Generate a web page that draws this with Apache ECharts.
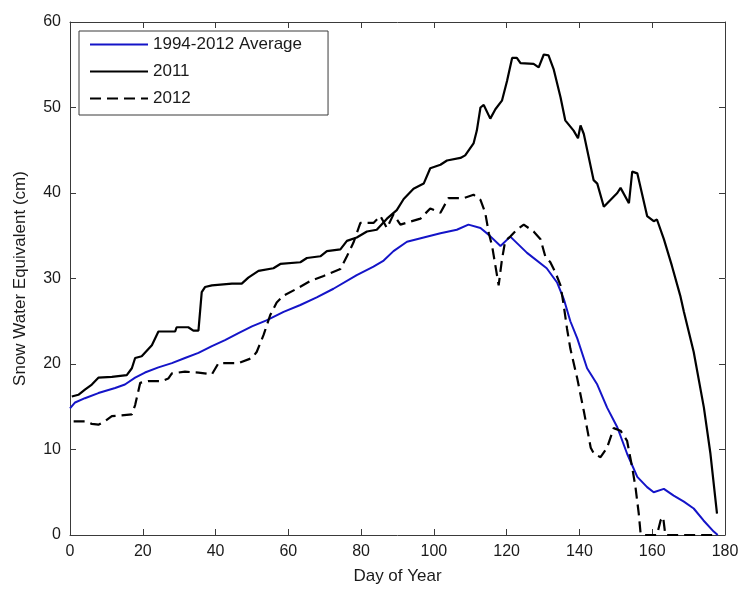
<!DOCTYPE html>
<html>
<head>
<meta charset="utf-8">
<script src="https://cdn.jsdelivr.net/npm/echarts@6/dist/echarts.min.js"></script>
<style>
  html, body { margin: 0; padding: 0; background: #fff; }
  #chart { width: 743px; height: 590px; }
</style>
</head>
<body>
<div id="chart"></div>
<script>
// 1994-2012 average (blue)
const avgDays = [0, 1.4, 4.1, 7.8, 12.4, 15.1, 17.9, 20.6, 24.3, 28, 31.6, 35.3, 39, 42.6, 46.3, 50, 54,
  58.7, 63.3, 67.8, 72.4, 78.8, 83.4, 86.2, 88.9, 92.6, 97.2, 101.8, 106.3, 109.5, 112.8, 115.1, 118.3, 121,
  125.6, 131, 133.9, 135.7, 137.5, 139.4, 142.1, 144.9, 147.6, 150.4, 153.1, 155.9, 158.6, 160.4,
  163.2, 165.9, 168.7, 171.4, 174.1, 176.9, 178];
const avgSwe = [14.8, 15.5, 16.0, 16.6, 17.2, 17.6, 18.4, 19.0, 19.6, 20.1, 20.7, 21.3, 22.1, 22.8, 23.6, 24.4, 25.1,
  26.1, 26.9, 27.8, 28.8, 30.4, 31.4, 32.1, 33.2, 34.3, 34.8, 35.3, 35.7, 36.3, 35.9, 35.1, 33.8, 34.9,
  33.0, 31.2, 29.5, 27.6, 25.0, 23.0, 19.5, 17.6, 14.9, 12.6, 9.5, 6.8, 5.6, 5.0,
  5.4, 4.6, 3.9, 3.1, 1.7, 0.4, 0];

// 2011 (solid black)
const days2011 = [0.5, 2.3, 4.1, 6, 7.8, 11.5, 15.6, 17, 17.9, 19.7, 22.5, 24.3, 28.9, 29.3, 32.5, 33.9, 35.3,
  36.2, 37.1, 39, 44.5, 47.2, 49, 51.8, 55.9, 57.8, 63.3, 65.1, 68.8, 70.6, 74.3, 76.1, 78.8, 81.6, 84.3,
  87.1, 89.8, 91.7, 94.4, 97.2, 99, 101.8, 103.6, 107.3, 108.6, 110.9, 111.8, 112.8, 113.7, 115.5, 116.9,
  118.7, 120.1, 121.5, 122.8, 123.8, 127.4, 128.8, 130.2, 131.5, 132.9, 134.8, 136.1, 138.4, 139.6, 140.3,
  141.2, 143.9, 144.9, 146.7, 150.4, 151.3, 153.6, 154.5, 155.9, 158.6, 160.4, 161.3, 163.2, 165.4, 167.7,
  168.7, 171.4, 174.2, 176, 177.8];
const swe2011 = [16.2, 16.4, 17.0, 17.6, 18.4, 18.5, 18.7, 19.5, 20.7, 20.9, 22.2, 23.8, 23.8, 24.3, 24.3, 23.9, 23.9,
  28.4, 29.0, 29.2, 29.4, 29.4, 30.1, 30.9, 31.2, 31.7, 31.9, 32.4, 32.6, 33.2, 33.4, 34.4, 34.8, 35.5, 35.7,
  37.0, 38.0, 39.3, 40.5, 41.1, 42.9, 43.3, 43.8, 44.1, 44.4, 45.8, 47.3, 50.0, 50.3, 48.7, 49.8,
  50.8, 53.1, 55.8, 55.8, 55.2, 55.1, 54.7, 56.2, 56.1, 54.5, 51.2, 48.5, 47.3, 46.4, 47.9,
  46.9, 41.5, 41.1, 38.4, 40.0, 40.6, 38.8, 42.5, 42.3, 37.3, 36.7, 36.9, 34.6, 31.5, 28.0,
  26.1, 21.4, 14.9, 9.5, 2.5];

// 2012 (dashed black)
const days2012 = [1, 4.1, 6, 7.8, 9.6, 11.5, 17, 17.9, 19.3, 21.5, 25.2, 27, 28, 31.6, 35.3, 39, 40.8, 46.3,
  50, 51.3, 53.2, 55, 56.8, 58.7, 62.3, 66, 69.7, 74.3, 76.1, 77.9, 79.8, 83.4, 85.3, 87.1, 88.9, 90.8,
  96.3, 99, 101.8, 104, 108.2, 110.9, 112.8, 114.1, 115.1, 116, 116.9, 117.8, 118.7, 119.6, 121, 122.8,
  124.7, 127.4, 129.3, 130.6, 132, 133.4, 134.8, 135.7, 136.6, 137.5, 139.4, 141.2, 143.1, 144, 145.8,
  147.6, 149.4, 151.3, 153.1, 154.5, 155.4, 156.3, 156.8, 157.5, 161.3, 162.3, 163, 163.6, 178];
const swe2012 = [13.3, 13.3, 13.0, 12.9, 13.3, 13.9, 14.1, 15.2, 17.8, 18.0, 18.0, 18.3, 18.9, 19.1, 19.0, 18.8, 20.1, 20.1,
  20.7, 21.4, 23.4, 25.7, 27.2, 28.0, 28.8, 29.7, 30.3, 31.1, 32.6, 34.2, 36.5, 36.5, 37.3, 35.9, 37.5, 36.3,
  37.0, 38.2, 37.7, 39.4, 39.4, 39.8, 39.2, 37.7, 35.3, 33.8, 31.5, 29.2, 32.2, 34.4, 34.9, 35.7,
  36.3, 35.5, 34.6, 32.6, 31.9, 30.7, 29.2, 26.8, 24.1, 21.8, 18.3, 14.5, 10.2, 9.5, 9.1,
  10.2, 12.5, 12.2, 11.0, 7.9, 5.6, 2.5, 0.2, 0, 0, 1.7, 2.1, 0, 0];

const xTicks = { min: 0, max: 180, interval: 20 };
const yTicks = { min: 0, max: 60, interval: 10 };

const font = "'Liberation Sans', Arial, sans-serif";
const ink = '#1a1a1a';
const frame = '#3a3a3a';

const pairs = (xs, ys) => xs.map((d, i) => [d, ys[i]]);

function boxAxis(range, pos, show) {
  return {
    type: 'value',
    position: pos,
    min: range.min, max: range.max, interval: range.interval,
    axisLine: { show: true, onZero: false, lineStyle: { color: frame, width: 1 } },
    axisTick: { show: true, inside: true, length: 6, lineStyle: { color: frame } },
    axisLabel: { show: show, color: ink, fontSize: 16, fontFamily: font, margin: 9 },
    splitLine: { show: false }
  };
}

const chart = echarts.init(document.getElementById('chart'));

const xBottom = boxAxis(xTicks, 'bottom', true);
xBottom.name = 'Day of Year';
xBottom.nameLocation = 'middle';
xBottom.nameGap = 33;
xBottom.nameTextStyle = { color: ink, fontSize: 17, fontFamily: font };

const yLeft = boxAxis(yTicks, 'left', true);
yLeft.name = 'Snow Water Equivalent (cm)';
yLeft.nameLocation = 'middle';
yLeft.nameGap = 41;
yLeft.nameTextStyle = { color: ink, fontSize: 17, fontFamily: font };

chart.setOption({
  animation: false,
  backgroundColor: '#fff',
  grid: { left: 70, right: 18, top: 22, bottom: 52 },
  xAxis: [xBottom, boxAxis(xTicks, 'top', false)],
  yAxis: [yLeft, boxAxis(yTicks, 'right', false)],
  legend: {
    orient: 'vertical',
    left: 79, top: 31,
    itemWidth: 58, itemHeight: 14, itemGap: 10,
    padding: [5, 26, 8, 10],
    borderColor: frame, borderWidth: 1,
    backgroundColor: '#fff',
    itemStyle: { opacity: 0 },
    textStyle: { color: ink, fontSize: 17, fontFamily: font },
    data: ['1994-2012 Average', '2011', '2012']
  },
  series: [
    {
      name: '1994-2012 Average', type: 'line', showSymbol: false, symbol: 'none',
      data: pairs(avgDays, avgSwe),
      itemStyle: { color: '#1414c8' },
      lineStyle: { color: '#1414c8', width: 2 }
    },
    {
      name: '2011', type: 'line', showSymbol: false, symbol: 'none',
      data: pairs(days2011, swe2011),
      itemStyle: { color: '#000' },
      lineStyle: { color: '#000', width: 2.2 }
    },
    {
      name: '2012', type: 'line', showSymbol: false, symbol: 'none',
      data: pairs(days2012, swe2012),
      itemStyle: { color: '#000' },
      lineStyle: { color: '#000', width: 2.2, type: [11, 6] }
    }
  ]
});
</script>
</body>
</html>
